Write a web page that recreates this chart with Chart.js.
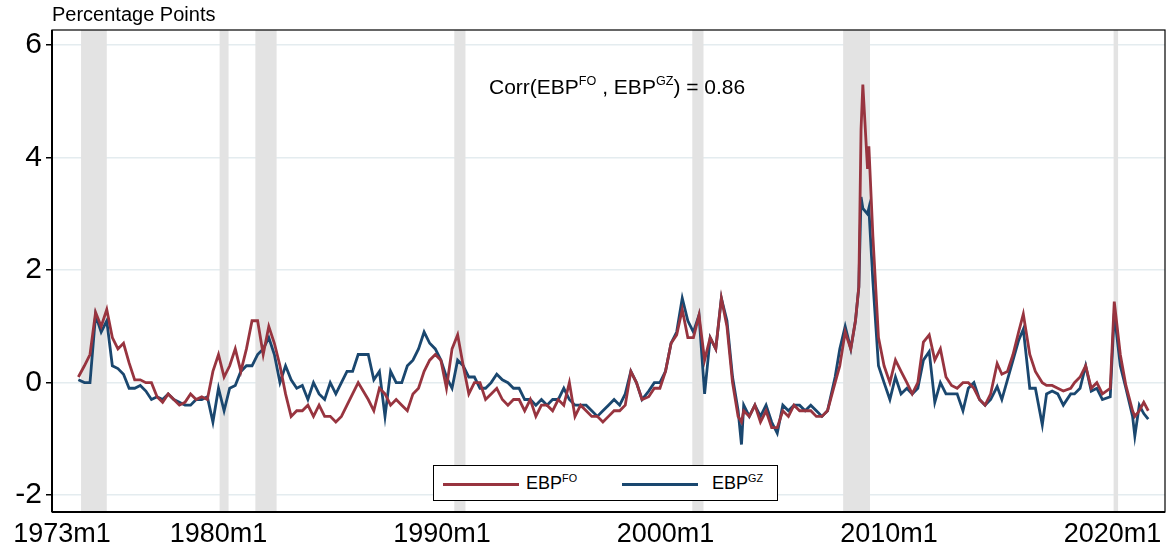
<!DOCTYPE html>
<html><head><meta charset="utf-8">
<script src="https://cdn.jsdelivr.net/npm/chart.js@4"></script>
<style>
body{margin:0;background:#fff;font-family:"Liberation Sans",Arial,sans-serif;}
#wrap{position:relative;width:1168px;height:554px;}
.txt{position:absolute;color:#000;white-space:nowrap;}
sup{font-size:60%;vertical-align:top;position:relative;top:-1px;}
#legend{position:absolute;left:433px;top:465px;width:345px;height:36px;border:1.5px solid #000;background:#fff;box-sizing:border-box;font-size:18px;}
#legend .it{position:absolute;top:7px;}
#legend .sw{position:absolute;top:17px;width:76px;height:3px;}
</style></head><body>
<div id="wrap">
<canvas id="c" width="1168" height="554"></canvas>
<div class="txt" style="left:52px;top:3px;font-size:20px;">Percentage Points</div>
<div class="txt" style="left:489px;top:75px;font-size:21px;">Corr(EBP<sup>FO</sup> , EBP<sup>GZ</sup>) = 0.86</div>
<div id="legend">
 <div class="sw" style="left:9px;background:#98343f"></div><div class="it" style="left:92px">EBP<sup>FO</sup></div>
 <div class="sw" style="left:188px;background:#1a476f"></div><div class="it" style="left:278px">EBP<sup>GZ</sup></div>
</div>
</div>
<script>
// decimal year, EBP (FO), EBP (GZ)
const dates = [1973.73,1974.0,1974.25,1974.5,1974.75,1975.0,1975.25,1975.5,1975.75,1976.0,1976.25,1976.5,1976.75,1977.0,1977.25,1977.5,1977.75,1978.0,1978.25,1978.5,1978.75,1979.0,1979.25,1979.5,1979.75,1980.0,1980.25,1980.5,1980.75,1981.0,1981.25,1981.5,1981.75,1982.0,1982.25,1982.5,1982.75,1983.0,1983.25,1983.5,1983.75,1984.0,1984.25,1984.5,1984.75,1985.0,1985.25,1985.5,1985.75,1986.0,1986.25,
 1986.7,1986.95,1987.2,1987.45,1987.7,1987.95,1988.2,1988.45,1988.7,1988.95,1989.2,1989.45,1989.7,1989.95,1990.2,1990.45,1990.7,1990.95,1991.2,1991.45,1991.7,1991.95,1992.2,1992.45,1992.7,1992.95,1993.2,1993.45,1993.7,1993.95,1994.2,1994.45,1994.7,1994.95,1995.2,1995.45,1995.7,1995.95,1996.2,1996.45,1996.7,1996.95,1997.2,1997.45,1997.7,1997.95,1998.2,1998.45,1998.7,1998.95,
 1999.25,1999.5,1999.75,2000.0,2000.25,2000.5,2000.75,2001.0,2001.25,2001.5,2001.75,2002.0,2002.25,2002.5,2002.75,2003.0,2003.25,2003.4,2003.5,2003.75,2004.0,2004.25,2004.5,2004.75,2005.0,2005.25,2005.5,2005.75,2006.0,2006.25,2006.5,2006.75,2007.0,2007.25,2007.59,2007.8,
 2008.04,2008.29,2008.5,2008.65,2008.75,2008.83,2009.04,2009.1,2009.28,2009.53,2009.78,2010.04,2010.29,2010.54,2010.8,2011.04,2011.29,
 2011.54,2011.8,2012.05,2012.3,2012.55,2012.8,2013.05,2013.31,2013.55,2013.8,2014.05,2014.3,2014.55,2014.84,2015.05,2015.3,2015.55,2015.8,2016.01,2016.3,2016.55,2016.86,2017.05,2017.3,2017.55,2017.8,2018.13,2018.3,2018.55,2018.8,2019.05,2019.3,2019.55,2019.9,2020.08,2020.35,2020.6,2020.9,2021.0,2021.2,2021.4,2021.6];
const ebpFO = [0.1,0.3,0.5,1.25,1.0,1.3,0.8,0.6,0.7,0.35,0.05,0.05,0.0,0.0,-0.25,-0.35,-0.2,-0.3,-0.4,-0.35,-0.2,-0.3,-0.25,-0.3,0.2,0.5,0.1,0.3,0.6,0.2,0.6,1.1,1.1,0.5,1.0,0.7,0.3,-0.2,-0.6,-0.5,-0.5,-0.4,-0.6,-0.4,-0.6,-0.6,-0.7,-0.6,-0.4,-0.2,0.0,
 -0.3,-0.5,-0.1,-0.2,-0.4,-0.3,-0.4,-0.5,-0.2,-0.1,0.2,0.4,0.5,0.4,-0.1,0.6,0.85,0.3,-0.2,0.0,0.0,-0.3,-0.2,-0.1,-0.3,-0.4,-0.3,-0.3,-0.5,-0.3,-0.6,-0.4,-0.4,-0.5,-0.3,-0.4,0.0,-0.6,-0.4,-0.5,-0.6,-0.6,-0.7,-0.6,-0.5,-0.5,-0.4,0.2,0.0,-0.3,
 -0.25,-0.1,-0.1,0.2,0.7,0.85,1.3,0.8,0.8,1.2,0.4,0.8,0.6,1.5,1.0,0.0,-0.6,-0.7,-0.5,-0.6,-0.4,-0.7,-0.5,-0.8,-0.8,-0.5,-0.6,-0.4,-0.5,-0.5,-0.5,-0.6,-0.6,-0.5,0.0,0.3,
 0.9,0.6,1.1,1.7,4.5,5.3,3.8,4.2,2.6,0.8,0.3,0.0,0.4,0.2,0.0,-0.2,0.0,
 0.72,0.85,0.4,0.6,0.1,-0.05,-0.1,0.0,0.0,-0.1,-0.3,-0.4,-0.2,0.34,0.15,0.2,0.5,0.9,1.22,0.5,0.2,0.0,-0.05,-0.05,-0.1,-0.15,-0.1,0.0,0.1,0.3,-0.1,0.0,-0.2,-0.1,1.44,0.5,-0.05,-0.5,-0.6,-0.5,-0.35,-0.5];
const ebpGZ = [0.05,0.0,0.0,1.2,0.9,1.1,0.3,0.25,0.15,-0.1,-0.1,-0.05,-0.15,-0.3,-0.25,-0.3,-0.2,-0.3,-0.35,-0.4,-0.4,-0.3,-0.3,-0.25,-0.7,-0.1,-0.5,-0.1,-0.05,0.2,0.3,0.3,0.5,0.6,0.8,0.5,0.0,0.3,0.05,-0.1,-0.05,-0.3,0.0,-0.2,-0.3,0.0,-0.2,0.0,0.2,0.2,0.5,
 0.5,0.05,0.2,-0.6,0.2,0.0,0.0,0.3,0.4,0.6,0.9,0.7,0.6,0.4,0.1,-0.1,0.4,0.3,0.1,0.1,-0.1,-0.1,0.0,0.15,0.05,0.0,-0.1,-0.1,-0.3,-0.3,-0.4,-0.3,-0.4,-0.3,-0.3,-0.1,-0.3,-0.4,-0.4,-0.4,-0.5,-0.6,-0.5,-0.4,-0.3,-0.4,-0.2,0.2,0.0,-0.3,
 -0.15,0.0,0.0,0.2,0.7,0.9,1.5,1.1,0.9,1.2,-0.2,0.8,0.6,1.5,1.1,0.1,-0.5,-1.1,-0.4,-0.6,-0.4,-0.6,-0.4,-0.7,-0.9,-0.4,-0.5,-0.4,-0.4,-0.5,-0.4,-0.5,-0.6,-0.5,0.1,0.6,
 1.0,0.6,1.1,1.7,3.3,3.1,3.0,3.1,1.8,0.3,0.0,-0.3,0.1,-0.2,-0.1,-0.2,-0.1,
 0.4,0.55,-0.35,0.0,-0.2,-0.2,-0.2,-0.5,-0.1,0.0,-0.3,-0.4,-0.3,-0.07,-0.3,0.05,0.4,0.75,0.95,-0.1,-0.1,-0.75,-0.2,-0.15,-0.2,-0.4,-0.2,-0.2,-0.1,0.3,-0.15,-0.1,-0.3,-0.25,1.23,0.3,-0.1,-0.6,-0.95,-0.4,-0.55,-0.65];
const recStart = [1973.85,1980.05,1981.65,1990.55,2001.2,2007.95,2020.05];
const recEnd   = [1975.0,1980.45,1982.6,1991.05,2001.7,2009.15,2020.25];
const xTicks = [1973,1980,1990,2000,2010,2020];
const yTicks = [-2,0,2,4,6];

const pts = a => dates.map((d,i)=>({x:d,y:a[i]}));

const shade = {
  id:'shade',
  beforeDatasetsDraw(chart){
    const {ctx, chartArea:a, scales:{x}} = chart;
    ctx.save();
    ctx.fillStyle = '#e3e3e3';
    for(let i=0;i<recStart.length;i++){
      const l = x.getPixelForValue(recStart[i]), r = x.getPixelForValue(recEnd[i]);
      ctx.fillRect(l, a.top, r-l, a.bottom-a.top);
    }
    ctx.restore();
  },
  afterDraw(chart){
    const {ctx, chartArea:a} = chart;
    ctx.save();
    ctx.strokeStyle='#000'; ctx.lineWidth=1.2;
    ctx.strokeRect(a.left, a.top, a.right-a.left, a.bottom-a.top);
    ctx.lineWidth=2;
    ctx.beginPath(); ctx.moveTo(a.left,a.bottom); ctx.lineTo(a.right,a.bottom);
    ctx.moveTo(a.left,a.top); ctx.lineTo(a.left,a.bottom); ctx.stroke();
    ctx.restore();
  }
};

new Chart(document.getElementById('c'), {
  type:'line',
  data:{datasets:[
    {label:'EBP FO', data:pts(ebpFO), borderColor:'#98343f', borderWidth:2.8, pointRadius:0, tension:0},
    {label:'EBP GZ', data:pts(ebpGZ), borderColor:'#1a476f', borderWidth:2.8, pointRadius:0, tension:0}
  ]},
  options:{
    responsive:false, animation:false,
    layout:{padding:{top:30,right:3,left:0,bottom:0}},
    plugins:{legend:{display:false}, tooltip:{enabled:false}},
    scales:{
      x:{type:'linear', min:1972.55, max:2022.35,
        afterBuildTicks(s){ s.ticks = xTicks.map(v=>({value:v})); },
        afterFit(s){ s.height = 42; },
        grid:{display:false, drawOnChartArea:false, drawTicks:true, tickLength:6, tickColor:'#000', tickWidth:1.5},
        border:{display:false},
        ticks:{color:'#000', font:{family:'Liberation Sans', size:27}, padding:0, maxRotation:0,
          callback:v=>v+'m1'}
      },
      y:{min:-2.3, max:6.27,
        afterBuildTicks(s){ s.ticks = yTicks.map(v=>({value:v})); },
        afterFit(s){ s.width = 52; },
        grid:{color:'#e4ecef', lineWidth:1.5, tickLength:6, tickColor:'#000'},
        border:{display:false},
        ticks:{color:'#000', font:{family:'Liberation Sans', size:30}, padding:4}
      }
    }
  },
  plugins:[shade]
});
</script>
</body></html>
